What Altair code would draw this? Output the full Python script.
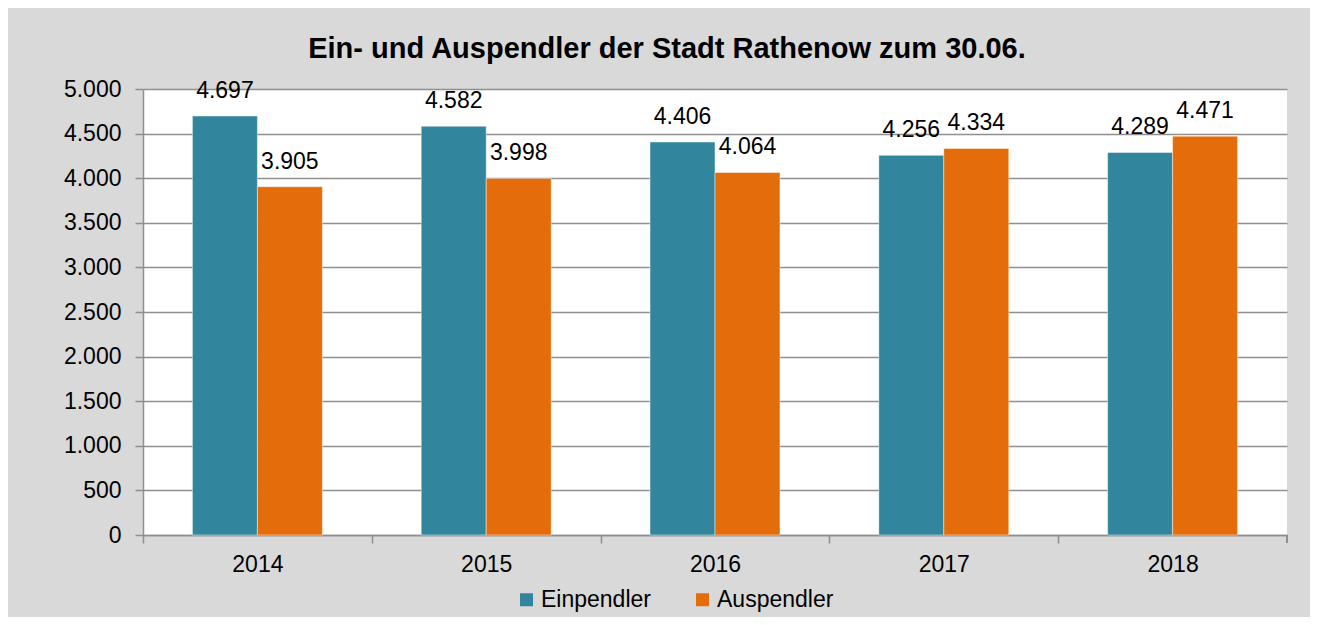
import altair as alt
import pandas as pd

years = ["2014", "2015", "2016", "2017", "2018"]
einpendler = [4697, 4582, 4406, 4256, 4289]
auspendler = [3905, 3998, 4064, 4334, 4471]
series = ["Einpendler", "Auspendler"]
colors = ["#31859c", "#e46c0a"]
y_ticks = [0, 500, 1000, 1500, 2000, 2500, 3000, 3500, 4000, 4500, 5000]

rows = []
for i, yr in enumerate(years):
    rows.append({"Jahr": yr, "Serie": series[0], "Wert": einpendler[i]})
    rows.append({"Jahr": yr, "Serie": series[1], "Wert": auspendler[i]})
df = pd.DataFrame(rows)

FONT = "Liberation Sans"
GRID = "#8f8f8f"
fmt = "replace(format(datum.value, ','), ',', '.')"
W, H = 1144, 446
STEP = W / len(years)

base = alt.Chart(df).encode(
    x=alt.X(
        "Jahr:N",
        sort=years,
        scale=alt.Scale(paddingInner=0.432, paddingOuter=0.216),
        axis=alt.Axis(
            title=None,
            labelAngle=0,
            tickOffset=-STEP / 2,
            labelOffset=STEP / 2,
            tickSize=8,
            tickColor=GRID,
            tickWidth=1.5,
            domainColor=GRID,
            domainWidth=1.5,
            labelFontSize=23,
            labelPadding=10,
            labelColor="#000000",
            grid=False,
        ),
    ),
    xOffset=alt.XOffset("Serie:N", sort=series, scale=alt.Scale(paddingInner=0, paddingOuter=0)),
)

bars = base.mark_bar(stroke="#ffffff", strokeOpacity=0.45, strokeWidth=1).encode(
    y=alt.Y(
        "Wert:Q",
        scale=alt.Scale(domain=[0, 5000], nice=False),
        axis=alt.Axis(
            title=None,
            values=y_ticks,
            labelExpr=fmt,
            tickSize=8,
            tickColor=GRID,
            tickWidth=1.5,
            domainColor=GRID,
            domainWidth=1.5,
            gridColor=GRID,
            gridWidth=1.5,
            labelFontSize=23,
            labelPadding=14,
            labelColor="#000000",
        ),
    ),
    color=alt.Color(
        "Serie:N",
        sort=series,
        scale=alt.Scale(domain=series, range=colors),
        legend=alt.Legend(
            title=None,
            orient="none",
            legendX=372,
            legendY=499,
            direction="horizontal",
            symbolType="square",
            symbolSize=169,
            symbolStrokeWidth=0,
            labelFontSize=23,
            labelOffset=3,
            columnPadding=40,
            padding=0,
            labelColor="#000000",
        ),
    ),
)

labels = base.mark_text(
    baseline="middle", dy=-25, fontSize=23, font=FONT, color="#000000"
).transform_calculate(
    lab="replace(format(datum.Wert, ','), ',', '.')"
).encode(
    y=alt.Y("Wert:Q"),
    text=alt.Text("lab:N"),
)

end_tick = alt.Chart(df).mark_rule(color=GRID, strokeWidth=1.5).encode(
    x=alt.value(W), y=alt.value(H), y2=alt.value(H + 8)
)

chart = (
    alt.layer(bars, labels, end_tick)
    .properties(
        width=W,
        height=H,
        autosize=alt.AutoSizeParams(type="none"),
        padding={"left": 135, "top": 81, "right": 23, "bottom": 82},
        background="#d9d9d9",
        title=alt.Title(
            "Ein- und Auspendler der Stadt Rathenow zum 30.06.",
            fontSize=29,
            fontWeight="bold",
            font=FONT,
            color="#000000",
            anchor="middle",
            dx=-48,
            offset=14,
        ),
    )
    .configure(font=FONT)
    .configure_view(fill="#ffffff", strokeWidth=0)
)

chart.save("out.html", embed_options={"renderer": "svg", "actions": False})
